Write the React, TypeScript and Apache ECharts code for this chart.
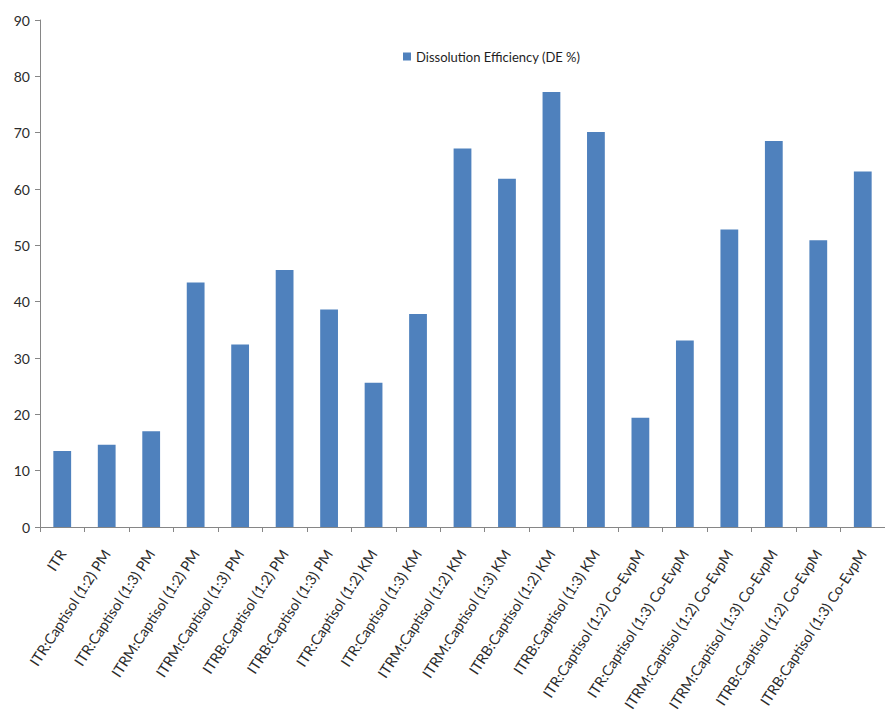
import React, { useEffect, useRef } from "react";
import * as echarts from "echarts";

const categories: string[] = [
  "ITR",
  "ITR:Captisol (1:2) PM",
  "ITR:Captisol (1:3) PM",
  "ITRM:Captisol (1:2) PM",
  "ITRM:Captisol (1:3) PM",
  "ITRB:Captisol (1:2) PM",
  "ITRB:Captisol (1:3) PM",
  "ITR:Captisol (1:2) KM",
  "ITR:Captisol (1:3) KM",
  "ITRM:Captisol (1:2) KM",
  "ITRM:Captisol (1:3) KM",
  "ITRB:Captisol (1:2) KM",
  "ITRB:Captisol (1:3) KM",
  "ITR:Captisol (1:2) Co-EvpM",
  "ITR:Captisol (1:3) Co-EvpM",
  "ITRM:Captisol (1:2) Co-EvpM",
  "ITRM:Captisol (1:3) Co-EvpM",
  "ITRB:Captisol (1:2) Co-EvpM",
  "ITRB:Captisol (1:3) Co-EvpM",
];

const deValues: number[] = [
  13.5, 14.6, 17.0, 43.4, 32.4, 45.6, 38.6, 25.6, 37.8, 67.2, 61.8, 77.2, 70.1,
  19.4, 33.1, 52.8, 68.5, 50.9, 63.1,
];

const seriesName = "Dissolution Efficiency (DE %)";
const yMin = 0;
const yMax = 90;
const yInterval = 10;

export default function App() {
  const ref = useRef<HTMLDivElement>(null);
  useEffect(() => {
    if (!ref.current) return;
    const chart = echarts.init(ref.current, undefined, { renderer: "svg" });
    const font = "Lato, 'Open Sans', sans-serif";
    chart.setOption({
      animation: false,
      backgroundColor: "#ffffff",
      textStyle: { fontFamily: font },
      legend: {
        left: 398,
        top: 45,
        icon: "rect",
        itemWidth: 8,
        itemHeight: 8,
        itemGap: 4,
        textStyle: { fontSize: 13, color: "#1f1f1f", fontFamily: font },
        data: [seriesName],
      },
      grid: {
        left: 40,
        top: 20,
        width: 857,
        height: 507,
        containLabel: false,
      },
      xAxis: {
        type: "category",
        data: categories,
        axisLine: { lineStyle: { color: "#868686", width: 1 } },
        axisTick: { show: true, length: 5, lineStyle: { color: "#868686" } },
        axisLabel: {
          rotate: 57,
          interval: 0,
          fontSize: 14.5,
          color: "#2b2b2b",
          margin: 24,
          fontFamily: font,
        },
      },
      yAxis: {
        type: "value",
        min: yMin,
        max: yMax,
        interval: yInterval,
        splitLine: { show: false },
        axisLine: { show: true, lineStyle: { color: "#868686", width: 1 } },
        axisTick: { show: true, length: 5, lineStyle: { color: "#868686" } },
        axisLabel: { fontSize: 14, color: "#2b2b2b", margin: 10, fontFamily: font },
      },
      series: [
        {
          name: seriesName,
          type: "bar",
          data: deValues,
          barWidth: "40%",
          itemStyle: { color: "#4f81bd" },
        },
      ],
    });
    return () => chart.dispose();
  }, []);
  return (
    <div
      ref={ref}
      style={{ position: "fixed", left: 0, top: 0, width: 885, height: 725 }}
    />
  );
}
